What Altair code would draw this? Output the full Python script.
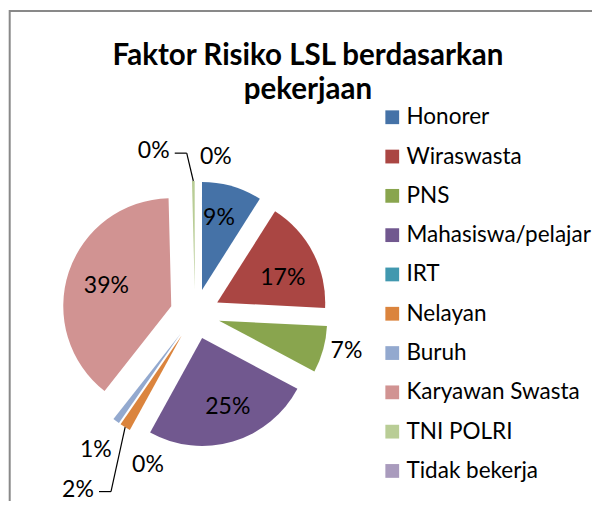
import altair as alt
import pandas as pd

# ---- data ----
categories = ["Honorer", "Wiraswasta", "PNS", "Mahasiswa/pelajar", "IRT",
              "Nelayan", "Buruh", "Karyawan Swasta", " TNI POLRI", "Tidak bekerja"]
values = [9.0, 16.8, 7.0, 25.2, 0.0, 1.6, 1.0, 39.0, 0.4, 0.0]
colors = ["#4572A7", "#AA4643", "#89A54E", "#71588F", "#4198AF",
          "#DB843D", "#93A9CF", "#D19392", "#B9CD96", "#A99BBD"]
title_lines = ["Faktor Risiko LSL berdasarkan", "pekerjaan"]

# ---- layout of the data labels (radius from pie centre, angle nudge in degrees, leader line) ----
label_radius = [99, 95, 156, 99, 158, 211, 168, 93, 168, 158]
label_shift = [-2.2, 4.9, -1.6, -2.8, -11.5, 2.0, -0.2, -0.6, -13.5, 7.6]
label_leader = [0, 0, 0, 0, 0, 1, 0, 0, 1, 0]

CX, CY = 187, 306      # pie centre (plot px)
R, D = 108, 25         # radius and explosion distance
W, H = 584, 493
FONT = "Lato"

df = pd.DataFrame({
    "category": categories,
    "value": values,
    "order": list(range(len(categories))),
    "lr": label_radius,
    "shift": label_shift,
    "leader": label_leader,
})

base = (
    alt.Chart(df)
    .transform_window(cum="sum(value)", sort=[alt.SortField("order")], frame=[None, 0])
    .transform_joinaggregate(total="sum(value)")
    .transform_calculate(t0="(datum.cum - datum.value) / datum.total * 2 * PI")
    .transform_calculate(t1="datum.cum / datum.total * 2 * PI")
    .transform_calculate(mid="(datum.t0 + datum.t1) / 2")
    .transform_calculate(cx=f"{CX} + {D} * sin(datum.mid)")
    .transform_calculate(cy=f"{CY} - {D} * cos(datum.mid)")
    .transform_calculate(la="datum.mid + datum.shift * PI / 180")
    .transform_calculate(lx=f"{CX} + datum.lr * sin(datum.la)")
    .transform_calculate(ly=f"{CY} - datum.lr * cos(datum.la)")
    .transform_calculate(tipx=f"{CX} + {D + R} * sin(datum.mid)")
    .transform_calculate(tipy=f"{CY} - {D + R} * cos(datum.mid)")
    .transform_calculate(pct="format(datum.value / datum.total, '.0%')")
    .transform_calculate(hx0="datum.lx + 21", hx1="datum.lx + 33", hy="datum.ly + 2")
)

arcs = base.mark_arc(outerRadius=R, innerRadius=0).encode(
    theta=alt.Theta("t0:Q", scale=None),
    theta2="t1:Q",
    x=alt.X("cx:Q", scale=None, axis=None),
    y=alt.Y("cy:Q", scale=None, axis=None),
    color=alt.Color(
        "category:N",
        sort=categories,
        scale=alt.Scale(domain=categories, range=colors),
        legend=alt.Legend(
            title=None, orient="none", legendX=373, legendY=98,
            symbolType="square", symbolSize=190, symbolStrokeWidth=0,
            symbolOpacity=1, labelFont=FONT, labelFontSize=22.5,
            labelColor="#000000", labelOffset=3, rowPadding=16.3,
            padding=0, labelLimit=300,
            labelExpr="datum.label == ' TNI POLRI' ? '\u00a0TNI POLRI' : datum.label",
        ),
    ),
)

labels = base.mark_text(font=FONT, fontSize=23, align="center", baseline="middle",
                        color="#000000").encode(
    x=alt.X("lx:Q", scale=None, axis=None),
    y=alt.Y("ly:Q", scale=None, axis=None),
    text="pct:N",
)

leader_h = base.transform_filter("datum.leader == 1").mark_rule(
    color="#000000", strokeWidth=1.2).encode(
    x=alt.X("hx0:Q", scale=None, axis=None), x2="hx1:Q",
    y=alt.Y("hy:Q", scale=None, axis=None), y2="hy:Q",
)
leader_d = base.transform_filter("datum.leader == 1").mark_rule(
    color="#000000", strokeWidth=1.2).encode(
    x=alt.X("hx1:Q", scale=None, axis=None), x2="tipx:Q",
    y=alt.Y("hy:Q", scale=None, axis=None), y2="tipy:Q",
)

one = pd.DataFrame({"a": [0]})
border_top = alt.Chart(one).mark_rule(color="#898989", strokeWidth=2).encode(
    x=alt.value(1), x2=alt.value(W), y=alt.value(3), y2=alt.value(3))
border_left = alt.Chart(one).mark_rule(color="#898989", strokeWidth=2).encode(
    x=alt.value(1.7), x2=alt.value(1.7), y=alt.value(2), y2=alt.value(H))

title = alt.Chart(one).mark_text(font=FONT, fontSize=29.5, fontWeight="bold",
                                 align="center", baseline="alphabetic",
                                 lineHeight=34, color="#000000").encode(
    x=alt.value(300), y=alt.value(57), text=alt.value(title_lines))

chart = alt.layer(border_top, border_left, title, arcs, leader_h, leader_d, labels).properties(
    width=W, height=H, autosize="none", padding=0
).configure_view(stroke=None)

chart.save("out.html", embed_options={"renderer": "svg", "actions": False})
